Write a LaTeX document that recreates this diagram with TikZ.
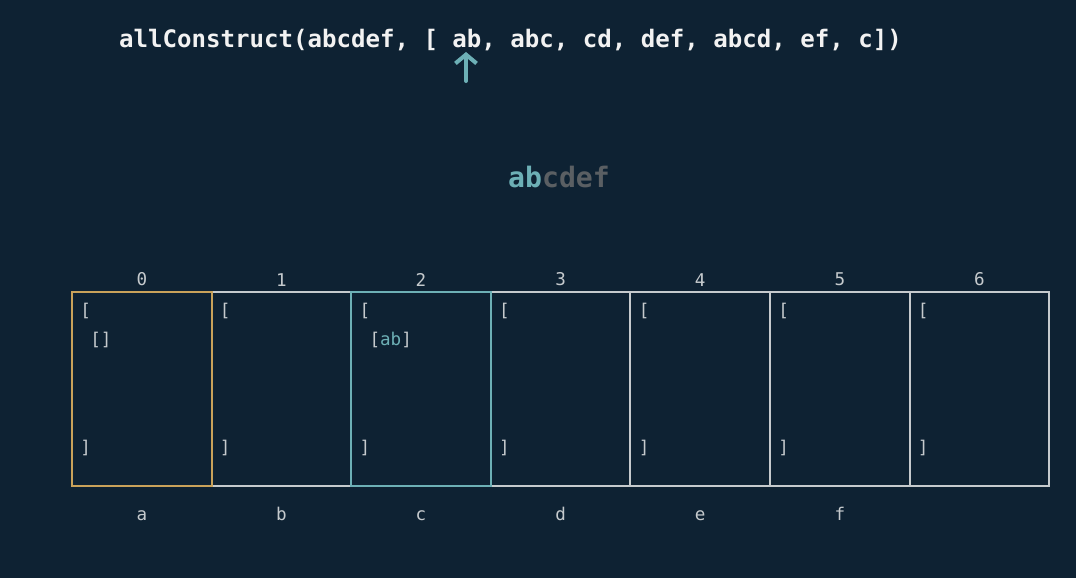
\documentclass[tikz,border=0pt]{standalone}
\usepackage{fontspec}
\setmonofont{DejaVu Sans Mono}
\usetikzlibrary{arrows.meta, positioning}
\definecolor{bgnavy}{HTML}{0E2233}
\definecolor{hlteal}{HTML}{6DB0B6}
\definecolor{pickgold}{HTML}{C9A25A}
\definecolor{gridgray}{HTML}{C5CACD}
\definecolor{dimgray}{HTML}{5A5F63}
\definecolor{titlewhite}{HTML}{F2F2F2}

\begin{document}
\begin{tikzpicture}[
    >={Straight Barb[length=5pt, width=12pt]},
    every node/.style={text=gridgray, font=\ttfamily\fontsize{10}{12}\selectfont},
    cellbox/.style={draw=gridgray, line width=1.1pt, minimum width=2.792cm,
      minimum height=3.88cm, inner sep=0pt, outer sep=0pt, anchor=south west},
    brk/.style={inner sep=0pt, anchor=north west},
  ]

  % ══════════════════════════════════════════════════════
  % Background
  % ══════════════════════════════════════════════════════
  \useasboundingbox (0,0) rectangle (21.52,11.56);
  \fill[bgnavy] (0,0) rectangle (21.52,11.56);

  % ══════════════════════════════════════════════════════
  % Call line and pointer
  % ══════════════════════════════════════════════════════
  \node[text=titlewhite, font=\ttfamily\bfseries\fontsize{13.7}{16}\selectfont]
    (title) at (10.21,10.76) {allConstruct(abcdef, [ ab, abc, cd, def, abcd, ef, c])};

  \coordinate (ptrtail) at (9.32,9.94);
  \coordinate (ptrtip) at (9.32,10.52);
  \draw[->, hlteal, line width=2.3pt, line cap=round] (ptrtail) -- (ptrtip);

  % ══════════════════════════════════════════════════════
  % Target word, matched prefix highlighted
  % ══════════════════════════════════════════════════════
  \node[font=\ttfamily\bfseries\fontsize{16}{19}\selectfont]
    (word) at (11.18,8.02) {\textcolor{hlteal}{ab}\textcolor{dimgray}{cdef}};

  % ══════════════════════════════════════════════════════
  % Table cells with indices
  % ══════════════════════════════════════════════════════
  \foreach \i in {0,...,6}{
    \node[cellbox] (cell\i) at ({1.44+2.792*\i},1.84) {};
    \node[inner sep=0pt, above=0.11cm of cell\i] (idx\i) {\i};
    \node[brk] (open\i) at ([xshift=0.16cm, yshift=-0.22cm]cell\i.north west) {[};
    \node[brk] (close\i) at ([xshift=0.16cm, yshift=-2.96cm]cell\i.north west) {]};
  }

  % Highlighted cells (current = gold, target = teal)
  \draw[pickgold, line width=1.1pt] (cell0.south west) rectangle (cell0.north east);
  \draw[hlteal, line width=1.1pt] (cell2.south west) rectangle (cell2.north east);

  % ══════════════════════════════════════════════════════
  % Cell contents
  % ══════════════════════════════════════════════════════
  \node[brk] (entry0) at ([xshift=0.36cm, yshift=-0.80cm]cell0.north west) {[]};
  \node[brk] (entry2) at ([xshift=0.36cm, yshift=-0.80cm]cell2.north west)
    {[\textcolor{hlteal}{ab}]};

  % ══════════════════════════════════════════════════════
  % Letters under the cells
  % ══════════════════════════════════════════════════════
  \foreach \i/\ch in {0/a, 1/b, 2/c, 3/d, 4/e, 5/f}{
    \node[inner sep=0pt, text height=1.5ex, text depth=0pt,
          below=0.45cm of cell\i] (chr\i) {\ch};
  }

\end{tikzpicture}
\end{document}
